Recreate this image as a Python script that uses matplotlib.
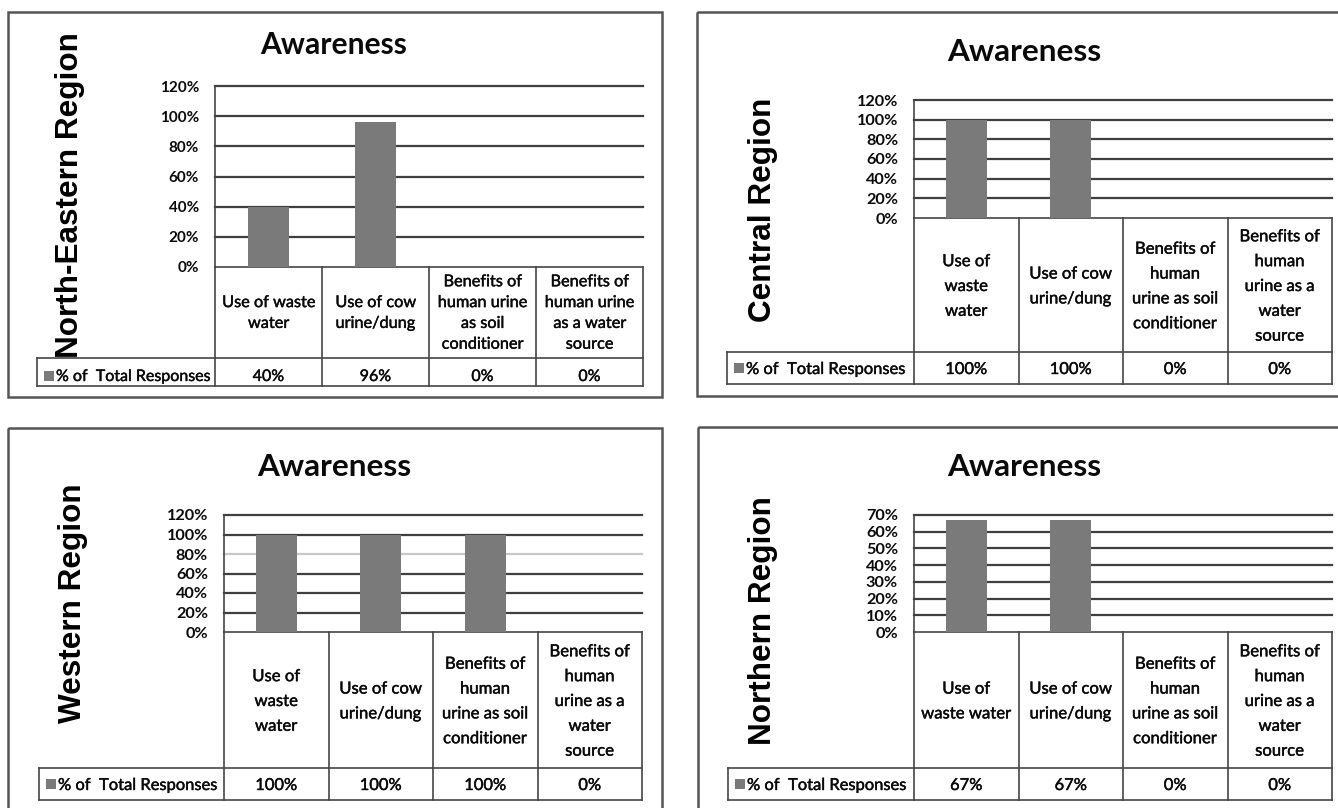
import matplotlib
matplotlib.use("Agg")
import matplotlib.pyplot as plt
from matplotlib.patches import Rectangle
import matplotlib.patheffects as pe

# ---- data -------------------------------------------------------------
title_text = "Awareness"
series_name = "% of  Total Responses"

regions = ["North-Eastern Region", "Central Region", "Western Region", "Northern Region"]

ne_values = [40, 96, 0, 0]
central_values = [100, 100, 0, 0]
western_values = [100, 100, 100, 0]
northern_values = [67, 67, 0, 0]

ne_labels = ["Use of waste\nwater", "Use of cow\nurine/dung",
             "Benefits of\nhuman urine\nas soil\nconditioner",
             "Benefits of\nhuman urine\nas a water\nsource"]
central_labels = ["Use of\nwaste\nwater", "Use of cow\nurine/dung",
                  "Benefits of\nhuman\nurine as soil\nconditioner",
                  "Benefits of\nhuman\nurine as a\nwater\nsource"]
western_labels = central_labels
northern_labels = ["Use of\nwaste water", "Use of cow\nurine/dung",
                   "Benefits of\nhuman\nurine as soil\nconditioner",
                   "Benefits of\nhuman\nurine as a\nwater\nsource"]

ticks_120 = [0, 20, 40, 60, 80, 100, 120]
ticks_70 = [0, 10, 20, 30, 40, 50, 60, 70]

# ---- styling ----------------------------------------------------------
W, H = 1338, 808
DPI = 100
PT = 72.0 / DPI          # points per pixel
BAR = "#7a7a7a"
GRID = "#3f3f3f"
LINE = "#454545"
FRAME = "#555555"
INK = "#0a0a0a"
CAL = ["Lato", "DejaVu Sans"]
ARIAL = ["Liberation Sans", "DejaVu Sans"]
HEAVY = [pe.withStroke(linewidth=0.3, foreground=INK)]

# geometry of each panel, in pixels (x to the right, y downwards)
panels = [
    dict(region=regions[0], values=ne_values, labels=ne_labels, ticks=ticks_120,
         frame=(8, 12, 662, 397), title=(334, 45), left=215, right=643,
         top=86, zero=267, cat_bottom=358, val_bottom=386, leg_left=37,
         reg=(70, 195), fs=16.0, cfs=16.3, kfs=15.3, tfs=30, lsp=1.62,
         val_dy=4, light=[]),
    dict(region=regions[1], values=central_values, labels=central_labels, ticks=ticks_120,
         frame=(697, 12, 1360, 396), title=(1024, 52), left=914, right=1332,
         top=100, zero=218, cat_bottom=352, val_bottom=384, leg_left=727,
         reg=(763, 210), fs=16.5, cfs=16.7, kfs=16.2, tfs=31.5, lsp=1.68,
         val_dy=0, light=[]),
    dict(region=regions[2], values=western_values, labels=western_labels, ticks=ticks_120,
         frame=(8, 428, 662, 830), title=(334, 467), left=224, right=642,
         top=515, zero=632, cat_bottom=768, val_bottom=800, leg_left=39,
         reg=(73, 603), fs=16.5, cfs=16.7, kfs=16.2, tfs=31.5, lsp=1.68,
         val_dy=0, light=[80]),
    dict(region=regions[3], values=northern_values, labels=northern_labels, ticks=ticks_70,
         frame=(698, 427, 1360, 830), title=(1024, 467), left=914, right=1332,
         top=515, zero=632, cat_bottom=768, val_bottom=800, leg_left=728,
         reg=(763, 621), fs=16.5, cfs=16.7, kfs=16.2, tfs=31.5, lsp=1.68,
         val_dy=0, light=[]),
]

fig = plt.figure(figsize=(W / DPI, H / DPI), dpi=DPI)
fig.patch.set_facecolor("white")

# pixel-space canvas for frames, table grid and text
cv = fig.add_axes([0, 0, 1, 1])
cv.set_xlim(0, W)
cv.set_ylim(H, 0)
cv.axis("off")
cv.patch.set_alpha(0)


def fig_box(l, r, t, b):
    return [l / W, 1 - b / H, (r - l) / W, (b - t) / H]


for p in panels:
    fl, ft, fr, fb = p["frame"]
    cv.add_patch(Rectangle((fl, ft), fr - fl, fb - ft, fill=False,
                           edgecolor=FRAME, linewidth=1.8, zorder=1))

    cv.text(p["title"][0], p["title"][1], title_text, ha="center", va="center",
            fontsize=p["tfs"] * PT, fontweight="bold", family=CAL, color=INK)

    cv.text(p["reg"][0], p["reg"][1], p["region"], rotation=90, ha="center",
            va="center", fontsize=31.5 * PT, fontweight="bold", family=ARIAL,
            color="black", zorder=5)

    n = len(p["values"])
    L, R, Z = p["left"], p["right"], p["zero"]
    cb, vb, ll = p["cat_bottom"], p["val_bottom"], p["leg_left"]
    colw = (R - L) / n

    # bar chart
    ax = fig.add_axes(fig_box(L, R, p["top"], Z))
    ax.patch.set_alpha(0)
    x = list(range(n))
    ymax = p["ticks"][-1]
    ax.set_xlim(-0.5, n - 0.5)
    ax.set_ylim(0, ymax)
    for t in p["ticks"][1:]:
        ax.axhline(t, color="#c8c8c8" if t in p["light"] else GRID,
                   linewidth=1.6, zorder=1, clip_on=False)
    ax.bar(x, p["values"], width=0.39, color=BAR, edgecolor="none", zorder=2)
    for s in ("top", "right", "bottom"):
        ax.spines[s].set_visible(False)
    ax.spines["left"].set_color(LINE)
    ax.spines["left"].set_linewidth(1.2)
    ax.set_xticks([])
    ax.set_yticks(p["ticks"])
    ax.set_yticklabels([f"{t}%" for t in p["ticks"]], family=CAL,
                       fontweight="bold", fontsize=p["kfs"] * PT, color=INK)
    ax.tick_params(axis="y", length=0, pad=16 * PT)

    # data table under the chart
    lw = 1.2
    cv.plot([L, R], [Z, Z], color=LINE, lw=lw)
    cv.plot([ll, R], [cb, cb], color=LINE, lw=lw)
    cv.plot([ll, R], [vb, vb], color=LINE, lw=lw)
    cv.plot([ll, ll], [cb, vb], color=LINE, lw=lw)
    cv.plot([L, L], [Z, vb], color=LINE, lw=lw)
    for i in range(1, n + 1):
        xb = L + i * colw
        cv.plot([xb, xb], [Z, vb], color=LINE, lw=lw)

    ym = (cb + vb) / 2 + 1 + p["val_dy"]
    for i, (lab, v) in enumerate(zip(p["labels"], p["values"])):
        xc = L + (i + 0.5) * colw
        cv.text(xc, (Z + cb) / 2 + 1, lab, ha="center", va="center",
                multialignment="center", fontsize=p["cfs"] * PT, family=CAL,
                linespacing=p["lsp"], color=INK, path_effects=HEAVY)
        cv.text(xc, ym, f"{v}%", ha="center", va="center",
                fontsize=p["fs"] * PT, family=CAL, color=INK, path_effects=HEAVY)

    cv.add_patch(Rectangle((ll + 7, ym - 6), 10, 10, facecolor=BAR,
                           edgecolor="none"))
    cv.text(ll + 19, ym, series_name, ha="left", va="center",
            fontsize=p["fs"] * PT, family=CAL, color=INK, path_effects=HEAVY)

fig.savefig("out.png", dpi=DPI, facecolor="white")
